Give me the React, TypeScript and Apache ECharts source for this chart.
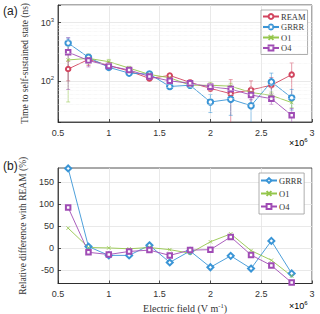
import React, { useEffect, useRef } from 'react';
import * as echarts from 'echarts';

// Electric field in units of 10^6 V/m
const efield = [0.6, 0.8, 1.0, 1.2, 1.4, 1.6, 1.8, 2.0, 2.2, 2.4, 2.6, 2.8];

// (a) time to self-sustained state (ns)
const ream = [161, 235, 185, 149, 111, 125, 95, 75, 61, 71, 85, 129];
const grrr = [447, 255, 172, 137, 132, 81, 85, 44, 49, 38, 97, 52];
const o1 = [230, 245, 215, 167, 130, 114, 85, 85, 82, 64, 57, 43];
const o4 = [312, 225, 182, 155, 120, 101, 92, 80, 73, 58, 50, 26];

const reamErr = [60, 50, 18, 12, 10, 10, 8, 8, 45, 30, 30, 75];
const grrrErr = [100, 20, 15, 10, 8, 8, 8, 15, 23, 20, 40, 20];
const o1Err = [186, 50, 20, 12, 10, 8, 8, 10, 10, 10, 8, 8];
const o4Err = [240, 50, 18, 12, 10, 10, 8, 8, 10, 10, 10, 8];

// (b) relative difference with REAM (%)
const grrrDiff = [182, 4, -16, -16, 7, -32, -6, -43, -17, -46, 17, -57];
const o1Diff = [46, 2, 1, -1, 2, -3, -11, 15, 33, -5, -27, -63];
const o4Diff = [93, -9, -14, -7, -4, -16, -4, -3, 26, -15, -39, -78];

const diffTicks = [-50, 0, 50, 100, 150];
const minorLogTicks = [30, 40, 50, 60, 70, 80, 90, 200, 300, 400, 500, 600, 700, 800, 900];

const C = { ream: '#d2455f', grrr: '#3a95d6', o1: '#95c64c', o4: '#a04cb5' };
const xMark = 'path://M0,0L10,10M10,0L0,10';
const SERIF = 'Liberation Serif';
const SANS = 'Liberation Sans';

function errSeries(name: string, idx: number, vals: number[], errs: number[], color: string) {
  return {
    type: 'custom',
    name,
    xAxisIndex: idx,
    yAxisIndex: idx,
    silent: true,
    z: 1,
    data: efield.map((x, i) => [x, vals[i], errs[i]]),
    encode: { x: 0, y: 1 },
    renderItem: (params: any, api: any) => {
      const x = api.value(0);
      const y = api.value(1);
      const e = api.value(2);
      const cs = params.coordSys;
      const top = api.coord([x, y + e]);
      const lowV = y - e > 0 ? y - e : 1e-6;
      const bot = api.coord([x, lowV]);
      const yMin = cs.y;
      const yMax = cs.y + cs.height;
      const y1 = Math.max(top[1], yMin);
      let y2 = bot[1];
      if (!isFinite(y2) || y2 > yMax) y2 = yMax;
      const st = { stroke: color, lineWidth: 0.9, opacity: 0.6 };
      const cw = 2;
      const children: any[] = [
        { type: 'line', shape: { x1: top[0], y1, x2: top[0], y2 }, style: st },
      ];
      if (top[1] >= yMin) children.push({ type: 'line', shape: { x1: top[0] - cw, y1: top[1], x2: top[0] + cw, y2: top[1] }, style: st });
      if (isFinite(bot[1]) && bot[1] <= yMax) children.push({ type: 'line', shape: { x1: top[0] - cw, y1: bot[1], x2: top[0] + cw, y2: bot[1] }, style: st });
      return { type: 'group', children };
    },
  };
}

function lineSeries(name: string, idx: number, vals: number[], color: string, symbol: string, size: number, extra: any = {}) {
  return {
    type: 'line',
    name,
    xAxisIndex: idx,
    yAxisIndex: idx,
    z: 3,
    data: efield.map((x, i) => [x, vals[i]]),
    symbol,
    symbolSize: size,
    showSymbol: true,
    color,
    lineStyle: { color, width: 0.9, type: 'solid' },
    itemStyle: { color, borderColor: color, borderWidth: 0.8 },
    emphasis: { disabled: true },
    ...extra,
  };
}

const supRich = {
  b: { fontSize: 9, fontFamily: SANS, color: '#333' },
  s: { fontSize: 6, fontFamily: SANS, color: '#333', padding: [0, 0, 6, 0] },
};

export default function App() {
  const ref = useRef<HTMLDivElement>(null);
  useEffect(() => {
    document.body.style.margin = '0';
    const chart = echarts.init(ref.current!, null, { renderer: 'svg' });
    const axisLine = { show: true, onZero: false, lineStyle: { color: '#262626', width: 0.8 } };
    const axisTick = { show: true, inside: true, length: 3, lineStyle: { color: '#262626', width: 0.8 } };
    const splitLine = { show: true, lineStyle: { color: '#e3e3e3', width: 0.8 } };
    const xLabel = { fontSize: 9, fontFamily: SANS, color: '#333', margin: 6 };

    const option: any = {
      animation: false,
      backgroundColor: '#fff',
      grid: [
        { left: 58, right: 8, top: 5, height: 117, show: true, borderColor: '#262626', borderWidth: 0.8 },
        { left: 58, right: 8, top: 168, height: 118, show: true, borderColor: '#262626', borderWidth: 0.8 },
      ],
      xAxis: [
        { gridIndex: 0, type: 'value', min: 0.5, max: 3, interval: 0.5, axisLine, axisTick, splitLine, axisLabel: xLabel },
        {
          gridIndex: 1, type: 'value', min: 0.5, max: 3, interval: 0.5, axisLine, axisTick, splitLine, axisLabel: xLabel,
          name: 'Electric field (V m{s|-1})', nameLocation: 'middle', nameGap: 18,
          nameTextStyle: {
            fontFamily: SERIF, fontSize: 10, color: '#333',
            rich: { s: { fontFamily: SERIF, fontSize: 6.5, color: '#333', padding: [0, 0, 6, 0] } },
          },
        },
      ],
      yAxis: [
        {
          gridIndex: 0, type: 'log', logBase: 10, min: 20, max: 2000, axisLine, axisTick, splitLine,
          axisLabel: {
            margin: 4,
            formatter: (v: number) => {
              const l = Math.log10(v);
              if (Math.abs(l - Math.round(l)) < 1e-6) return `{b|10}{s|${Math.round(l)}}`;
              return '';
            },
            rich: supRich,
          },
          name: 'Time to self-sustained state (ns)', nameLocation: 'middle', nameGap: 21,
          nameTextStyle: { fontFamily: SERIF, fontSize: 9.5, color: '#333' },
        },
        {
          gridIndex: 1, type: 'value', min: -80, max: 183, axisLine,
          axisTick: { ...axisTick, customValues: diffTicks },
          splitLine,
          axisLabel: { fontSize: 9, fontFamily: SANS, color: '#333', margin: 4, customValues: diffTicks },
          name: 'Relative difference with REAM (%)', nameLocation: 'middle', nameGap: 21,
          nameTextStyle: { fontFamily: SERIF, fontSize: 9.5, color: '#333' },
        },
      ],
      legend: [
        {
          data: ['REAM', 'GRRR', 'O1', 'O4'],
          orient: 'vertical', left: 261, top: 10, itemWidth: 16, itemHeight: 6, itemGap: 1.5,
          padding: [2, 2, 2, 1], borderColor: '#999', borderWidth: 0.8, backgroundColor: '#fff',
          textStyle: { fontFamily: SERIF, fontSize: 8.5, color: '#333', padding: [0, 0, 0, -3] },
        },
        {
          data: ['GRRR ', 'O1 ', 'O4 '],
          formatter: (n: string) => n.trim(),
          orient: 'vertical', left: 259, top: 173, itemWidth: 16, itemHeight: 6, itemGap: 4,
          padding: [3, 2, 3, 1], borderColor: '#999', borderWidth: 0.8, backgroundColor: '#fff',
          textStyle: { fontFamily: SERIF, fontSize: 8.5, color: '#333', padding: [0, 0, 0, -3] },
        },
      ],
      graphic: [
        { type: 'text', left: 3, top: 5, style: { text: '(a)', fontFamily: SANS, fontSize: 12, fill: '#222' } },
        { type: 'text', left: 3, top: 160, style: { text: '(b)', fontFamily: SANS, fontSize: 12, fill: '#222' } },
        { type: 'text', left: 289, top: 137, style: { text: '{b|×10}{s|6}', rich: supRich } },
        { type: 'text', left: 289, top: 300, style: { text: '{b|×10}{s|6}', rich: supRich } },
      ],
      series: [
        errSeries('REAM-err', 0, ream, reamErr, C.ream),
        errSeries('GRRR-err', 0, grrr, grrrErr, C.grrr),
        errSeries('O1-err', 0, o1, o1Err, C.o1),
        errSeries('O4-err', 0, o4, o4Err, C.o4),
        lineSeries('REAM', 0, ream, C.ream, 'emptyCircle', 4.5, {
          markLine: {
            silent: true, symbol: 'none', label: { show: false },
            lineStyle: { color: '#ececec', width: 0.6, type: 'dotted' },
            data: minorLogTicks.map((v) => ({ yAxis: v })),
          },
        }),
        lineSeries('GRRR', 0, grrr, C.grrr, 'emptyCircle', 5.5),
        lineSeries('O1', 0, o1, C.o1, xMark, 3.5),
        lineSeries('O4', 0, o4, C.o4, 'emptyRect', 4.5),
        lineSeries('GRRR ', 1, grrrDiff, C.grrr, 'emptyDiamond', 6),
        lineSeries('O1 ', 1, o1Diff, C.o1, xMark, 3.5),
        lineSeries('O4 ', 1, o4Diff, C.o4, 'emptyRect', 4.5),
      ],
    };
    chart.setOption(option);
    return () => chart.dispose();
  }, []);
  return <div ref={ref} style={{ width: 320, height: 314 }} />;
}
